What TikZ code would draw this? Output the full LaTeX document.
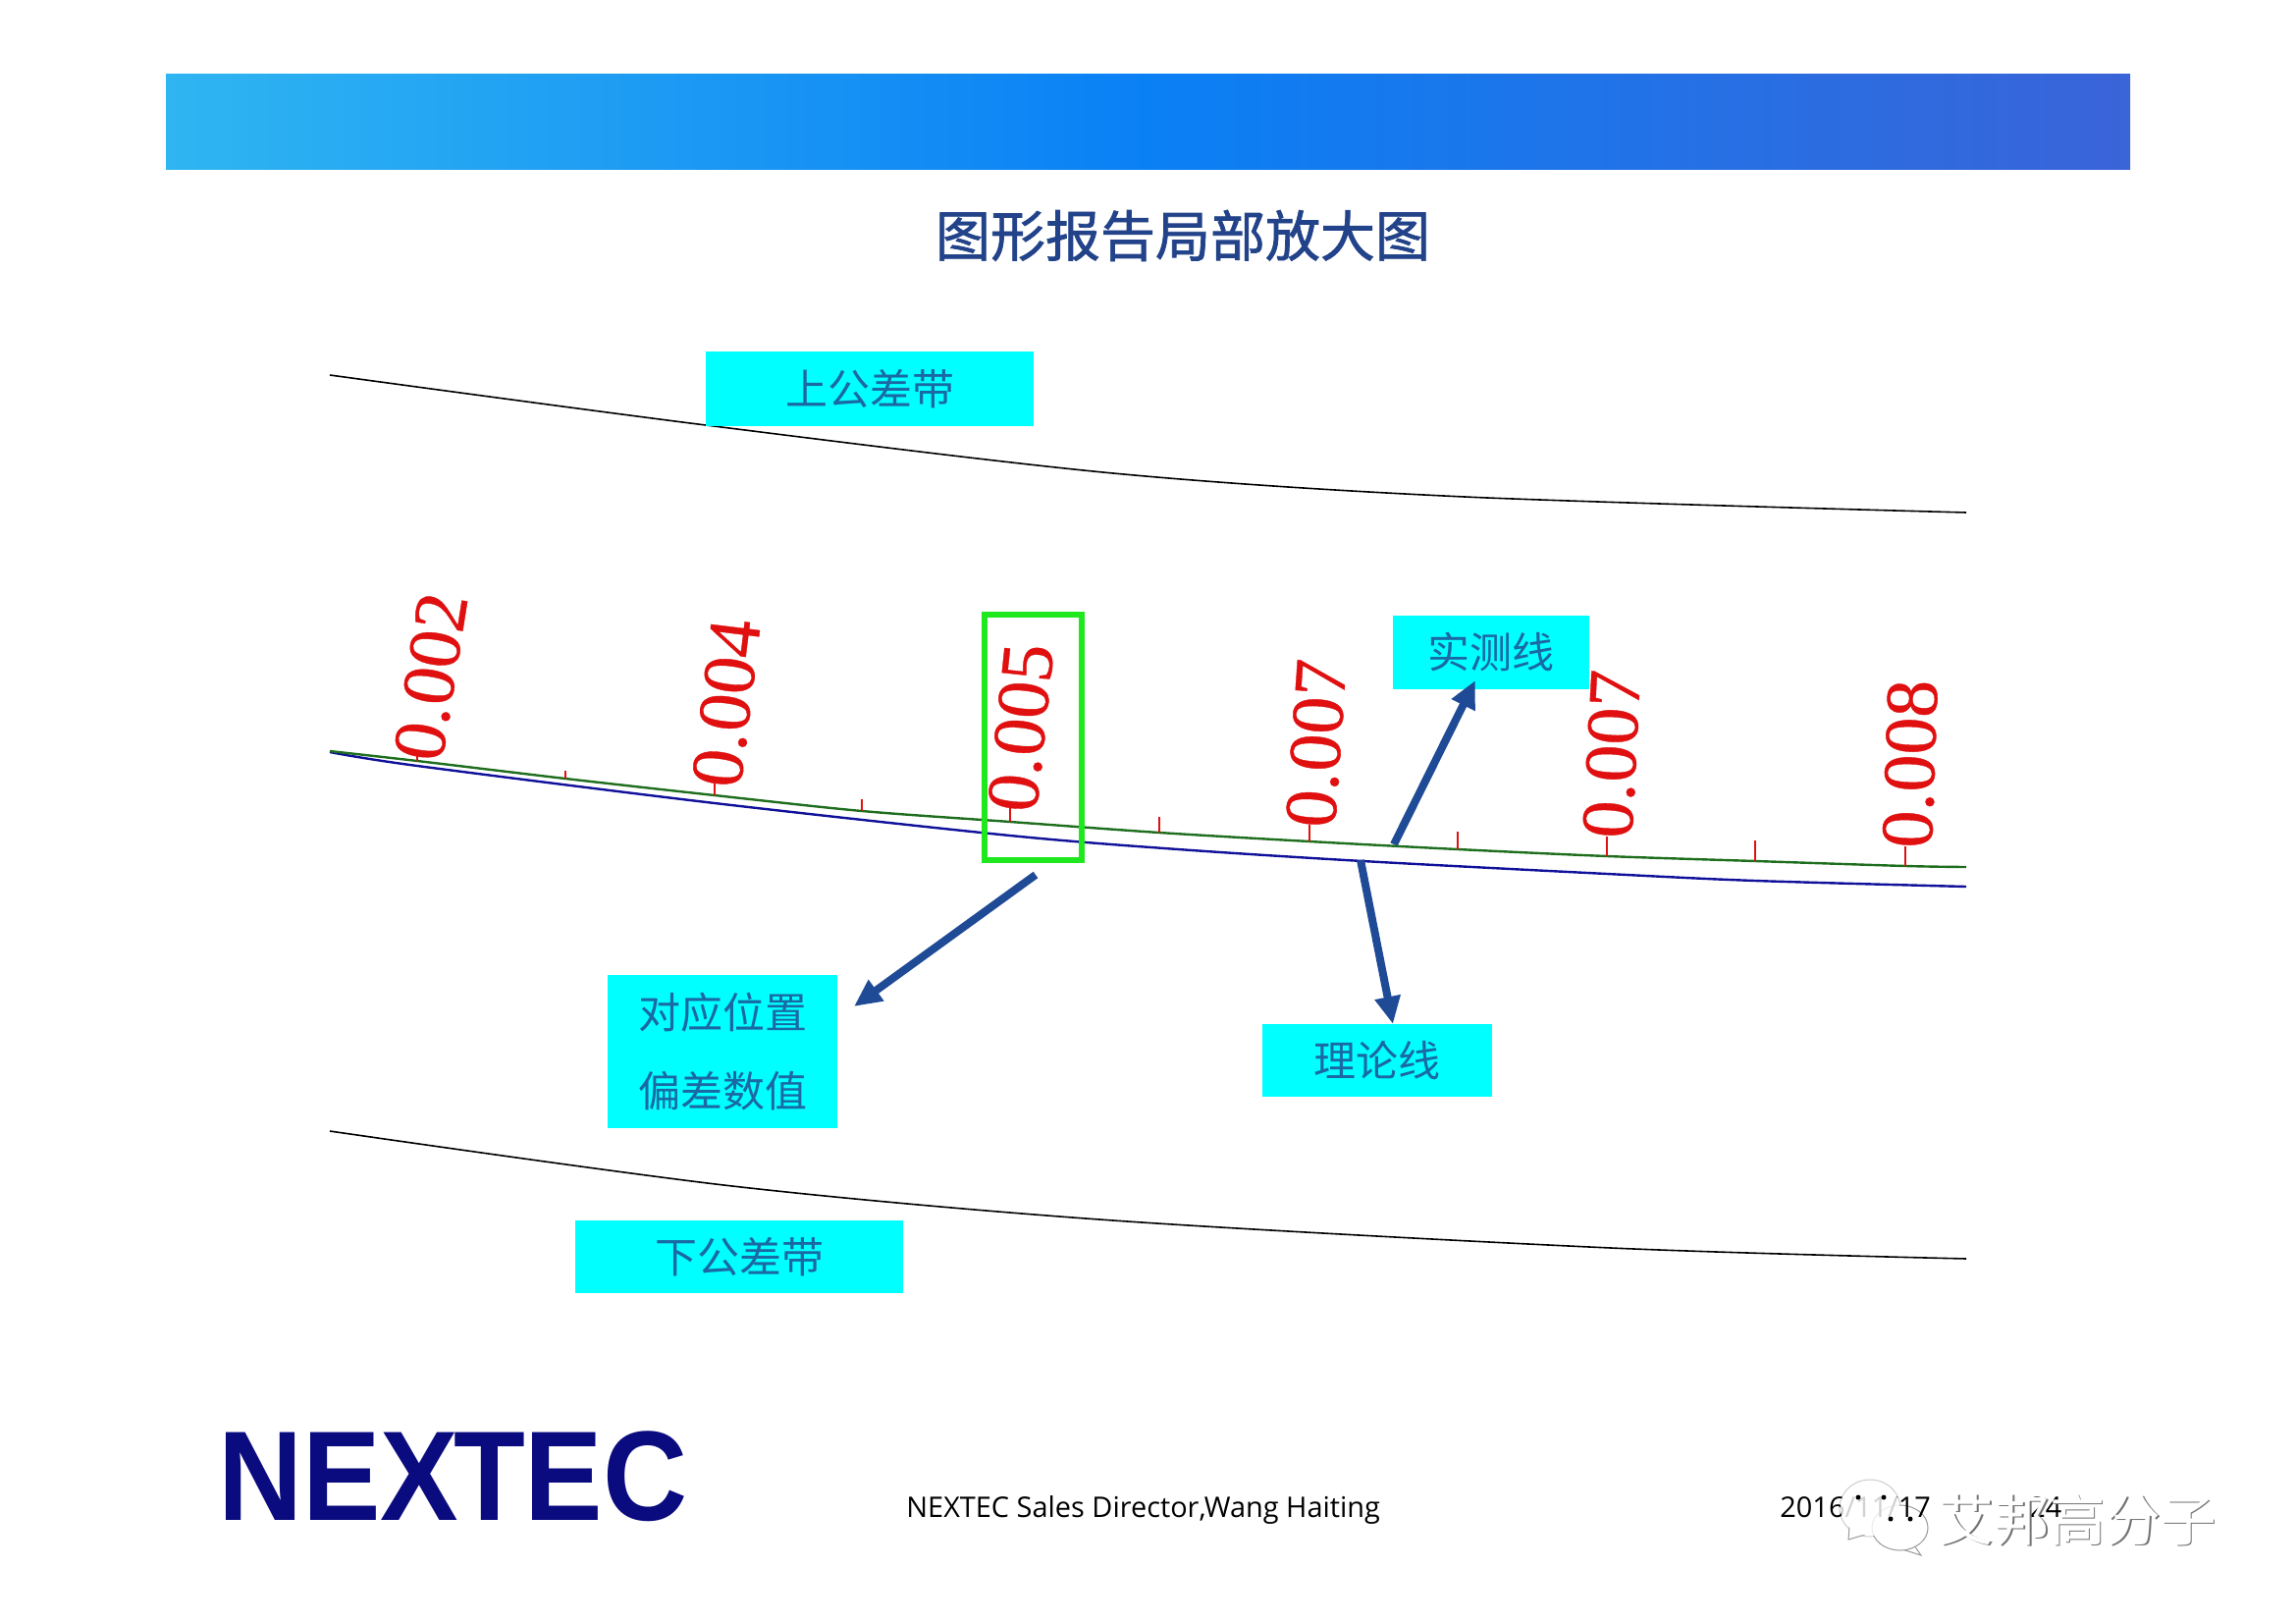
\documentclass[tikz,border=0pt]{standalone}
\usepackage{fontspec}
\setmainfont{Open Sans}
\newfontfamily\cjk{Noto Sans CJK SC}
\newfontfamily\cjkhead[FakeBold=1.3]{Noto Sans CJK SC}
\newfontfamily\numfont[FakeBold=0.5]{Liberation Serif}
\newfontfamily\logofont{Liberation Sans}
\usetikzlibrary{arrows.meta,positioning}

\definecolor{barleft}{HTML}{2FB5F2}
\definecolor{barmid}{HTML}{0A80F5}
\definecolor{barright}{HTML}{3A64D8}
\definecolor{arrowblue}{HTML}{1F4A96}
\definecolor{headtext}{HTML}{224389}
\definecolor{tagfill}{HTML}{00FFFF}
\definecolor{tagtext}{HTML}{1A68A4}
\definecolor{logoblue}{HTML}{0B0B80}
\definecolor{boxgreen}{HTML}{1FE81F}
\definecolor{numred}{HTML}{E01010}
\definecolor{measgreen}{HTML}{1E6E1E}
\definecolor{theoblue}{HTML}{10109A}

\tikzset{
  tagbox/.style={fill=tagfill, inner sep=0pt, text=tagtext, align=center, font=\cjk\fontsize{21.5}{40}\selectfont},
  devnum/.style={inner sep=0pt, text=numred, font=\numfont\fontsize{38}{38}\selectfont},
  bandline/.style={line width=0.8pt, black},
  bigarrow/.style={-{Triangle[length=14pt,width=12.5pt]}, line width=4pt, arrowblue},
  tickmark/.style={line width=0.8pt, numred},
  footnum/.style={anchor=base west, inner sep=0pt, font=\fontsize{14.45}{16}\selectfont},
  bubble/.style={fill=white, draw=black!40, line width=0.5pt},
  markfont/.style={anchor=west, inner sep=0pt, font=\cjk\fontsize{28.3}{28}\selectfont}
}

\begin{document}
\begin{tikzpicture}[x=0.5pt, y=-0.5pt]
    \useasboundingbox (0,0) rectangle (2339,1653);

    \node [minimum width=1000.5pt, minimum height=48.5pt, inner sep=0pt, left color=barleft, right color=barright, middle color=barmid] (headbar) at (1169.5,124.5) {};
    \node [text=headtext, inner sep=0pt, font=\cjkhead\fontsize{28}{28}\selectfont] (title) at (1205,240) {图形报告局部放大图};

    % tolerance bands
    \draw [bandline] plot [smooth] coordinates {(336,382) (719,433) (1134,482) (1492,506) (2003,522)};
    \draw [bandline] plot [smooth] coordinates {(336,1152) (746,1208) (1134,1243) (1641,1271) (2003,1282)};

    % measured and nominal curves
    \draw [line width=1.2pt, theoblue] plot [smooth] coordinates {(336,766) (425,780) (728,818) (1029,851) (1200,865) (1388,877) (1637,890) (1788,897) (2003,903)};
    \draw [line width=1.2pt, measgreen] plot [smooth] coordinates {(336,765) (425,775) (576,793) (728,810) (878,826) (1029,837) (1181,848) (1334,857) (1485,865) (1637,872) (1788,877) (1941,882) (2003,883)};

    \foreach \tx/\ty/\tl in {425/775/5, 576/793/8, 728/810/12, 878/826/12, 1029/837/14, 1181/848/16, 1334/857/17, 1485/865/18, 1637/872/20, 1788/877/21, 1941/882/20}
        \draw [tickmark] (\tx,\ty) -- ++(0,-\tl);

    \node [tagbox, minimum width=167pt, minimum height=38pt] (upper) at (886,396) {上公差带};
    \node [tagbox, minimum width=100pt, minimum height=37.5pt] (measured) at (1519,664) {实测线};
    \node [tagbox, minimum width=117pt, minimum height=37pt] (nominal) at (1403,1080) {理论线};
    \node [tagbox, minimum width=117pt, minimum height=78pt] (deviation) at (736,1071) {对应位置\\偏差数值};
    \node [tagbox, minimum width=167pt, minimum height=37pt] (lower) at (753,1280) {下公差带};

    \foreach \nx/\ny/\nr/\nt in {439/689/81/0.002, 740/716/83/0.004, 1040/741/84/0.005, 1341/757/86/0.007, 1642/768/87/0.007, 1946/778/88/0.008}
        \node [devnum, rotate=\nr] at (\nx,\ny) {\nt};

    \node [draw=boxgreen, line width=2.75pt, minimum width=49.5pt, minimum height=125pt, inner sep=0pt] (focus) at (1052.5,751) {};

    \coordinate (focusend) at (1055,891);
    \coordinate (deviationend) at (870,1025);
    \coordinate (measstart) at (1420,860);
    \coordinate (measend) at (1503,693);
    \coordinate (nomstart) at (1386,876);
    \coordinate (nomend) at (1419,1043);
    \draw [bigarrow] (focusend) -- (deviationend);
    \draw [bigarrow] (measstart) -- (measend);
    \draw [bigarrow] (nomstart) -- (nomend);

    % footer
    \node [anchor=west, inner sep=0pt, text=logoblue, font=\logofont\bfseries\fontsize{65}{65}\selectfont] (logo) at (222,1503.5) {\scalebox{0.917}[1]{NEX\kern-3pt TEC}};
    \node [footnum] (speaker) at (923,1545) {NEXTEC Sales Director,Wang Haiting};

    % watermark
    \draw [bubble, draw=black!20] (1905,1536) ellipse (31 and 29);
    \draw [bubble] (1884,1555) -- (1883,1568) -- (1900,1563);
    \draw [bubble] (1950,1574) -- (1957,1584) -- (1938,1578);
    \draw [bubble] (1935.5,1556) ellipse (28.5 and 23);
    \node [footnum] (date) at (1813,1545) {2016/11/17};
    \node [footnum] (pageno) at (2067,1545) {24};
    \fill [white, fill opacity=0.82] (1905,1536) ellipse (30 and 28);
    \fill [black] (1893,1525) circle (2.5) (1919,1525) circle (2.5);
    \fill [black] (1926,1547) circle (2.5) (1946,1547) circle (2.5);
    \node [markfont, text=black!55] (markshadow) at (1976,1549.5) {艾邦高分子};
    \node [markfont, text=white] (mark) at (1974.5,1548) {艾邦高分子};
\end{tikzpicture}
\end{document}
